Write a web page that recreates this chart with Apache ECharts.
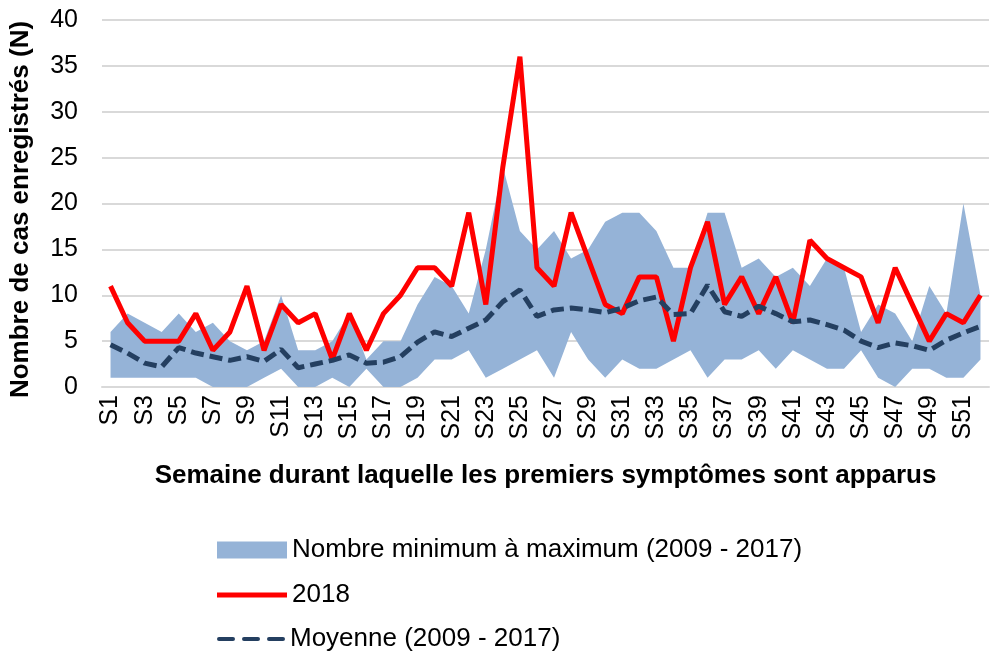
<!DOCTYPE html>
<html lang="fr">
<head>
  <meta charset="UTF-8">
  <title>Cas enregistrés par semaine</title>
  <script src="https://cdn.jsdelivr.net/npm/echarts@6/dist/echarts.min.js"></script>
  <style>
    html, body { margin: 0; padding: 0; background: #fff; }
    #main { width: 996px; height: 653px; }
  </style>
</head>
<body>
<div id="main"></div>
<script type="text/javascript">
  // semaines
  var weeks = ['S1','S2','S3','S4','S5','S6','S7','S8','S9','S10',
    'S11','S12','S13','S14','S15','S16','S17','S18','S19','S20',
    'S21','S22','S23','S24','S25','S26','S27','S28','S29','S30',
    'S31','S32','S33','S34','S35','S36','S37','S38','S39','S40',
    'S41','S42','S43','S44','S45','S46','S47','S48','S49','S50',
    'S51','S52'];

  // minimum 2009-2017
  var minVals = [1,1,1,1,1,1,0,0,0,1, 2,0,0,1,0,2,0,0,1,3,
    3,4,1,2,3,4,1,6,3,1, 3,2,2,3,4,1,3,3,4,2,
    4,3,2,2,4,1,0,2,2,1, 1,3];

  // maximum 2009-2017
  var maxVals = [6,8,7,6,8,6,7,5,4,5, 10,4,4,5,8,3,5,5,9,12,
    11,8,15,24,17,15,17,14,15,18, 19,19,17,13,13,19,19,13,14,12,
    13,11,14,13,6,9,8,5,11,8, 20,10];

  // 2018
  var vals2018 = [11,7,5,5,5,8,4,6,11,4, 9,7,8,3,8,4,8,10,13,13,
    11,19,9,24,36,13,11,19,14,9, 8,12,12,5,13,18,9,12,8,12,
    7,16,14,13,12,7,13,9,5,8, 7,10];

  // moyenne 2009-2017
  var meanVals = [4.6,3.7,2.6,2.2,4.3,3.7,3.3,2.9,3.3,2.8, 4.1,2.1,2.5,2.9,3.5,2.6,2.7,3.3,4.9,6.0,
    5.5,6.4,7.3,9.3,10.6,7.7,8.4,8.6,8.4,8.1, 8.6,9.4,9.8,7.9,8.0,11.1,8.2,7.7,8.8,8.0,
    7.1,7.3,6.8,6.2,5.0,4.3,4.8,4.5,4.0,5.1, 5.9,6.6];

  var bandName = 'Nombre minimum à maximum (2009 - 2017)';
  var meanName = 'Moyenne (2009 - 2017)';

  // épaisseur de la bande = max - min (empilée sur le min)
  var bandVals = maxVals.map(function (v, i) { return v - minVals[i]; });

  var font = 'Arial, "Liberation Sans", sans-serif';
  var legendText = { fontSize: 26, color: '#000', fontFamily: font };

  var myChart = echarts.init(document.getElementById('main'));

  myChart.setOption({
    animation: false,
    textStyle: { fontFamily: font },
    grid: { left: 101, right: 7, top: 20, bottom: 266 },
    // une légende par ligne pour tenir la mise en page verticale
    legend: [
      {
        left: 212, top: 532,
        itemWidth: 70, itemHeight: 17,
        textStyle: legendText,
        data: [{ name: bandName, icon: 'rect', itemStyle: { color: '#95B3D7', borderWidth: 0 } }]
      },
      {
        left: 212, top: 577,
        itemWidth: 70, itemHeight: 5,
        textStyle: legendText,
        data: [{ name: '2018', icon: 'rect', itemStyle: { color: '#FF0000', borderWidth: 0 } }]
      },
      {
        left: 212, top: 621,
        itemWidth: 68, itemHeight: 5,
        textStyle: legendText,
        data: [{
          name: meanName,
          icon: 'path://M2,0h14a2,2 0 0 1 0,4h-14a2,2 0 0 1 0,-4z M27,0h14a2,2 0 0 1 0,4h-14a2,2 0 0 1 0,-4z M52,0h14a2,2 0 0 1 0,4h-14a2,2 0 0 1 0,-4z',
          itemStyle: { color: '#243F60', borderWidth: 0 }
        }]
      }
    ],
    xAxis: {
      type: 'category',
      data: weeks,
      boundaryGap: true,
      axisLine: { lineStyle: { color: '#D9D9D9', width: 2 } },
      axisTick: { show: false },
      axisLabel: {
        interval: 1,
        rotate: 90,
        margin: 8,
        fontSize: 25,
        color: '#000'
      },
      name: 'Semaine durant laquelle les premiers symptômes sont apparus',
      nameLocation: 'middle',
      nameGap: 76,
      nameTextStyle: { fontSize: 26, fontWeight: 'bold', color: '#000' }
    },
    yAxis: {
      type: 'value',
      min: 0,
      max: 40,
      interval: 5,
      axisLine: { show: false },
      axisTick: { show: false },
      splitLine: { lineStyle: { color: '#D9D9D9', width: 2 } },
      axisLabel: { fontSize: 25, color: '#000', margin: 24 },
      name: 'Nombre de cas enregistrés (N)',
      nameLocation: 'middle',
      nameGap: 68,
      nameTextStyle: { fontSize: 26, fontWeight: 'bold', color: '#000', padding: [0, 12, 0, 0] }
    },
    series: [
      {
        name: 'min',
        type: 'line',
        stack: 'band',
        data: minVals,
        symbol: 'none',
        lineStyle: { opacity: 0 },
        silent: true
      },
      {
        name: bandName,
        type: 'line',
        stack: 'band',
        data: bandVals,
        symbol: 'none',
        color: '#95B3D7',
        lineStyle: { opacity: 0 },
        areaStyle: { color: '#95B3D7', opacity: 1 }
      },
      {
        name: '2018',
        type: 'line',
        data: vals2018,
        symbol: 'none',
        color: '#FF0000',
        lineStyle: { color: '#FF0000', width: 5 }
      },
      {
        name: meanName,
        type: 'line',
        data: meanVals,
        symbol: 'none',
        color: '#243F60',
        lineStyle: { color: '#243F60', width: 5, type: [13, 6], cap: 'butt' }
      }
    ]
  });
</script>
</body>
</html>
